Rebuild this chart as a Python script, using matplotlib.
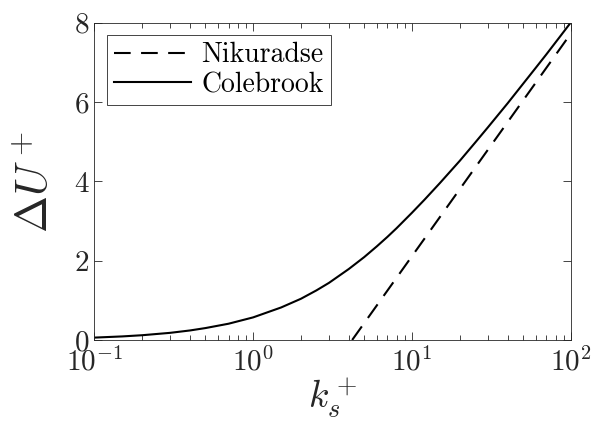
import numpy as np
import matplotlib
matplotlib.use("Agg")
from matplotlib import pyplot as plt

# data
ks_cole = [0.1, 0.15, 0.2, 0.3, 0.4, 0.5, 0.7, 1, 1.5, 2, 2.5, 3, 4, 5, 6, 7, 8,
           10, 12, 15, 20, 25, 30, 40, 50, 60, 70, 85, 100]
du_cole = [0.06, 0.09, 0.12, 0.18, 0.24, 0.30, 0.41, 0.57, 0.82, 1.04, 1.25,
           1.44, 1.79, 2.09, 2.36, 2.60, 2.82, 3.21, 3.54, 3.96, 4.52, 4.98,
           5.36, 5.97, 6.46, 6.86, 7.20, 7.64, 8.01]
ks_nik = [4.2, 100]
du_nik = [0.0, 7.73]

plt.rcParams['font.family'] = 'serif'
plt.rcParams['font.serif'] = ['cmr10']
plt.rcParams['mathtext.fontset'] = 'cm'
plt.rcParams['axes.formatter.use_mathtext'] = True
plt.rcParams['axes.unicode_minus'] = False

fig = plt.figure(figsize=(5.91, 4.37), dpi=100)
ax = fig.add_axes([0.1595, 0.222, 0.8065, 0.726])

ax.plot(ks_nik, du_nik, color='k', lw=1.5, dashes=(8, 5), label='Nikuradse')
ax.plot(ks_cole, du_cole, color='k', lw=1.5, label='Colebrook')

ax.set_xscale('log')
ax.set_xlim(0.1, 100)
ax.set_ylim(0, 8)
ax.set_yticks([0, 2, 4, 6, 8])

ax.tick_params(which='both', direction='in', top=True, right=True,
               labelsize=21, colors='#262626', width=0.6)
ax.tick_params(which='major', length=6)
ax.tick_params(which='minor', length=3.5)
ax.tick_params(axis='x', pad=5)
for s in ax.spines.values():
    s.set_color('#262626')
    s.set_linewidth(0.6)

ax.set_xlabel(r'$k_s^+$', fontsize=27, color='#262626', labelpad=0)
ax.set_ylabel(r'$\Delta U^+$', fontsize=32, color='#262626', labelpad=12)

leg = ax.legend(loc='upper left', fontsize=20, fancybox=False, framealpha=1,
                edgecolor='#262626', handlelength=2.8, borderaxespad=0.45,
                borderpad=0.25, labelspacing=0.12, handletextpad=0.35)
leg.get_frame().set_linewidth(0.6)

fig.savefig('out.png', dpi=100)
